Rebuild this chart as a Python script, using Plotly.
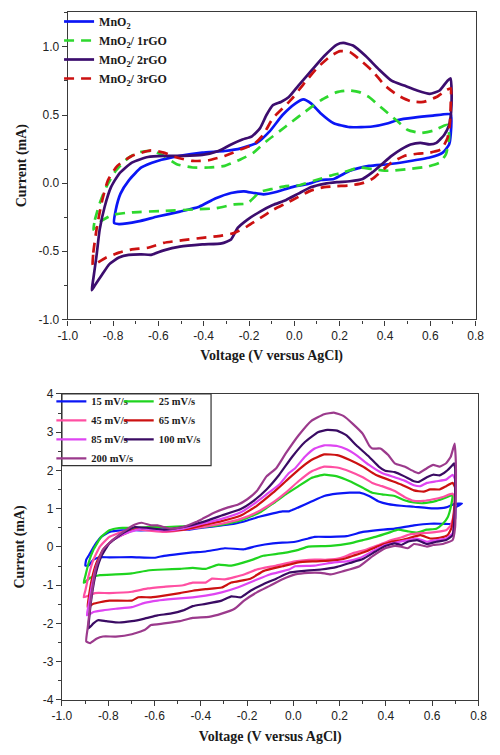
import plotly.graph_objects as go

# ---------------- Top panel: MnO2 / rGO composites (V vs AgCl, mA) ----------------
MNO2_V = [-0.795, -0.788, -0.767, -0.731, -0.675, -0.604, -0.505, -0.406, -0.307, -0.236, -0.165, -0.109,
          -0.052, 0.004, 0.040, 0.075, 0.117, 0.174, 0.245, 0.344, 0.414, 0.457, 0.528, 0.612, 0.690,
          0.690, 0.683, 0.655, 0.598, 0.499, 0.414, 0.330, 0.245, 0.174, 0.117, 0.061, -0.010, -0.081,
          -0.137, -0.180, -0.222, -0.279, -0.349, -0.420, -0.505, -0.604, -0.689, -0.774, -0.795]
MNO2_I = [-0.293, -0.197, -0.077, 0.019, 0.115, 0.163, 0.200, 0.224, 0.236, 0.255, 0.296, 0.380,
          0.500, 0.584, 0.615, 0.584, 0.512, 0.440, 0.411, 0.416, 0.440, 0.464, 0.481, 0.495, 0.505,
          0.356, 0.284, 0.224, 0.188, 0.159, 0.139, 0.127, 0.091, 0.031, 0.024, -0.005, -0.029, -0.065,
          -0.082, -0.072, -0.060, -0.072, -0.113, -0.173, -0.209, -0.245, -0.281, -0.300, -0.293]

RGO1_V = [-0.887, -0.880, -0.859, -0.830, -0.788, -0.731, -0.682, -0.625, -0.576, -0.519, -0.448, -0.378,
          -0.307, -0.236, -0.180, -0.123, -0.066, -0.010, 0.047, 0.117, 0.188, 0.245, 0.287, 0.330, 0.372,
          0.414, 0.457, 0.499, 0.556, 0.612, 0.676,
          0.683, 0.669, 0.641, 0.584, 0.499, 0.414, 0.344, 0.287, 0.216, 0.160, 0.089, 0.018, -0.038,
          -0.095, -0.151, -0.208, -0.264, -0.349, -0.434, -0.576, -0.717, -0.802, -0.844, -0.873, -0.887]
RGO1_I = [-0.341, -0.269, -0.149, -0.029, 0.091, 0.188, 0.228, 0.236, 0.200, 0.139, 0.115, 0.115,
          0.127, 0.175, 0.224, 0.308, 0.380, 0.452, 0.524, 0.608, 0.668, 0.680, 0.668, 0.632, 0.572,
          0.512, 0.452, 0.392, 0.368, 0.385, 0.428,
          0.332, 0.212, 0.151, 0.120, 0.103, 0.091, 0.103, 0.115, 0.079, 0.055, 0.019, -0.017, -0.022,
          -0.041, -0.065, -0.149, -0.156, -0.185, -0.192, -0.204, -0.214, -0.233, -0.269, -0.305, -0.341]

RGO2_V = [-0.894, -0.887, -0.873, -0.859, -0.837, -0.809, -0.774, -0.717, -0.646, -0.576, -0.491, -0.406,
          -0.335, -0.279, -0.229, -0.187, -0.151, -0.123, -0.095, -0.059, -0.024, 0.018, 0.075, 0.132,
          0.188, 0.216, 0.259, 0.315, 0.372, 0.429, 0.485, 0.542, 0.598, 0.641, 0.676, 0.690,
          0.694, 0.692, 0.683, 0.662, 0.627, 0.598, 0.556, 0.513, 0.471, 0.429, 0.386, 0.344, 0.301,
          0.245, 0.188, 0.132, 0.075, 0.018, -0.038, -0.095, -0.151, -0.208, -0.250, -0.279, -0.321,
          -0.406, -0.505, -0.576, -0.632, -0.675, -0.731, -0.774, -0.816, -0.851, -0.880, -0.894]
RGO2_I = [-0.786, -0.702, -0.534, -0.341, -0.173, -0.029, 0.067, 0.151, 0.192, 0.200, 0.200, 0.207,
          0.236, 0.284, 0.320, 0.344, 0.404, 0.500, 0.572, 0.596, 0.632, 0.716, 0.825, 0.933,
          1.017, 1.029, 1.010, 0.933, 0.837, 0.752, 0.716, 0.680, 0.656, 0.680, 0.752, 0.769,
          0.668, 0.524, 0.428, 0.356, 0.296, 0.284, 0.296, 0.284, 0.248, 0.200, 0.139, 0.079, 0.031,
          0.014, 0.007, -0.005, -0.029, -0.077, -0.125, -0.161, -0.209, -0.269, -0.329, -0.413, -0.442,
          -0.450, -0.466, -0.493, -0.526, -0.522, -0.526, -0.546, -0.594, -0.678, -0.750, -0.786]

RGO3_V = [-0.890, -0.887, -0.873, -0.851, -0.823, -0.781, -0.717, -0.632, -0.576, -0.519, -0.448, -0.378,
          -0.307, -0.236, -0.180, -0.137, -0.095, -0.052, -0.010, 0.047, 0.103, 0.160, 0.202, 0.245,
          0.287, 0.344, 0.400, 0.457, 0.513, 0.570, 0.627, 0.669, 0.690,
          0.690, 0.686, 0.676, 0.648, 0.598, 0.542, 0.485, 0.429, 0.386, 0.344, 0.301, 0.245, 0.188,
          0.132, 0.075, 0.018, -0.038, -0.095, -0.151, -0.208, -0.264, -0.321, -0.406, -0.491, -0.576,
          -0.646, -0.717, -0.774, -0.830, -0.866, -0.887, -0.890]
RGO3_I = [-0.594, -0.510, -0.341, -0.149, 0.019, 0.127, 0.200, 0.240, 0.224, 0.188, 0.163, 0.168,
          0.200, 0.248, 0.284, 0.356, 0.476, 0.548, 0.620, 0.740, 0.849, 0.933, 0.969, 0.962,
          0.909, 0.825, 0.716, 0.644, 0.601, 0.596, 0.632, 0.680, 0.697,
          0.572, 0.428, 0.332, 0.248, 0.224, 0.216, 0.200, 0.151, 0.091, 0.031, 0.000, -0.017, -0.022,
          -0.029, -0.053, -0.101, -0.149, -0.197, -0.257, -0.317, -0.365, -0.385, -0.401, -0.418, -0.438,
          -0.474, -0.486, -0.510, -0.546, -0.582, -0.606, -0.594]

TOP_NAMES = ["MnO<sub>2</sub>", "MnO<sub>2</sub>/ 1rGO", "MnO<sub>2</sub>/ 2rGO", "MnO<sub>2</sub>/ 3rGO"]

# ---------------- Bottom panel: scan rates ----------------
RATE_LABELS = ["15 mV/s", "25 mV/s", "45 mV/s", "65 mV/s", "85 mV/s", "100 mV/s", "200 mV/s"]

R15_V = [-0.899, -0.895, -0.878, -0.858, -0.830, -0.795, -0.740, -0.656, -0.559, -0.448, -0.393, -0.310,
         -0.254, -0.199, -0.144, -0.088, -0.047, -0.019, 0.022, 0.078, 0.133, 0.189, 0.244, 0.286, 0.327,
         0.369, 0.410, 0.466, 0.521, 0.604, 0.660, 0.694, 0.729,
         0.702, 0.699, 0.688, 0.646, 0.591, 0.521, 0.438, 0.355, 0.300, 0.230, 0.161, 0.092, 0.064, 0.008,
         -0.088, -0.158, -0.213, -0.296, -0.379, -0.435, -0.490, -0.559, -0.601, -0.698, -0.795, -0.836,
         -0.864, -0.885, -0.899]
R15_I = [-0.488, -0.334, -0.163, 0.050, 0.264, 0.392, 0.435, 0.435, 0.452, 0.452, 0.503, 0.563,
         0.606, 0.691, 0.794, 0.879, 0.931, 0.931, 1.034, 1.187, 1.332, 1.392, 1.418, 1.418, 1.332,
         1.187, 1.119, 1.076, 1.051, 1.008, 1.034, 1.119, 1.136,
         1.034, 0.734, 0.606, 0.606, 0.606, 0.563, 0.478, 0.435, 0.392, 0.281, 0.264, 0.264, 0.221, 0.136,
         0.093, 0.025, -0.061, -0.035, -0.119, -0.145, -0.180, -0.232, -0.283, -0.266, -0.274, -0.266,
         -0.334, -0.488, -0.488]

R25_V = [-0.906, -0.899, -0.885, -0.864, -0.830, -0.795, -0.753, -0.698, -0.629, -0.559, -0.476, -0.393,
         -0.310, -0.227, -0.144, -0.088, -0.033, 0.022, 0.078, 0.133, 0.189, 0.244, 0.300, 0.341, 0.383,
         0.438, 0.480, 0.521, 0.563, 0.618, 0.660, 0.688,
         0.680, 0.667, 0.646, 0.618, 0.577, 0.535, 0.494, 0.452, 0.410, 0.355, 0.300, 0.244, 0.161, 0.064,
         0.022, -0.047, -0.130, -0.185, -0.268, -0.324, -0.379, -0.435, -0.490, -0.559, -0.629, -0.698,
         -0.767, -0.836, -0.878, -0.899, -0.906]
R25_I = [-0.932, -0.762, -0.420, -0.076, 0.264, 0.435, 0.495, 0.495, 0.520, 0.520, 0.538, 0.520,
         0.580, 0.691, 0.905, 1.136, 1.375, 1.589, 1.803, 1.888, 1.845, 1.717, 1.546, 1.418, 1.375,
         1.332, 1.222, 1.161, 1.144, 1.204, 1.290, 1.358,
         1.034, 0.777, 0.606, 0.478, 0.452, 0.375, 0.409, 0.452, 0.367, 0.264, 0.179, 0.093, 0.025, 0.008,
         -0.076, -0.163, -0.232, -0.351, -0.488, -0.462, -0.573, -0.548, -0.573, -0.590, -0.616, -0.693,
         -0.719, -0.736, -0.804, -0.916, -0.932]

R45_V = [-0.906, -0.899, -0.885, -0.864, -0.836, -0.795, -0.740, -0.670, -0.559, -0.490, -0.393, -0.310,
         -0.227, -0.158, -0.088, -0.033, 0.022, 0.078, 0.133, 0.189, 0.244, 0.300, 0.341, 0.383, 0.438,
         0.480, 0.521, 0.563, 0.604, 0.646, 0.688,
         0.699, 0.694, 0.680, 0.660, 0.618, 0.577, 0.507, 0.466, 0.424, 0.369, 0.313, 0.258, 0.203, 0.147,
         0.092, 0.008, -0.074, -0.158, -0.213, -0.296, -0.352, -0.379, -0.435, -0.476, -0.559, -0.629,
         -0.698, -0.795, -0.858, -0.878, -0.906]
R45_I = [-1.317, -1.146, -0.762, -0.334, 0.008, 0.264, 0.392, 0.452, 0.392, 0.435, 0.520, 0.606,
         0.734, 0.905, 1.161, 1.418, 1.717, 1.974, 2.101, 2.076, 1.974, 1.820, 1.674, 1.589, 1.461,
         1.307, 1.204, 1.204, 1.247, 1.307, 1.392,
         1.290, 0.862, 0.563, 0.435, 0.392, 0.367, 0.333, 0.247, 0.179, 0.050, -0.076, -0.163, -0.292, -0.334,
         -0.334, -0.377, -0.488, -0.590, -0.719, -0.847, -0.830, -0.932, -0.932, -1.001, -1.043, -1.086,
         -1.172, -1.206, -1.206, -1.257, -1.317]

R65_V = [-0.889, -0.885, -0.871, -0.851, -0.823, -0.781, -0.726, -0.670, -0.559, -0.476, -0.393, -0.310,
         -0.227, -0.158, -0.088, -0.033, 0.022, 0.078, 0.133, 0.189, 0.244, 0.300, 0.355, 0.410, 0.466,
         0.521, 0.563, 0.591, 0.632, 0.660, 0.688,
         0.699, 0.694, 0.685, 0.667, 0.632, 0.591, 0.549, 0.494, 0.466, 0.424, 0.369, 0.313, 0.258, 0.216,
         0.175, 0.092, 0.022, -0.047, -0.130, -0.185, -0.268, -0.310, -0.379, -0.435, -0.490, -0.559,
         -0.615, -0.670, -0.698, -0.795, -0.836, -0.864, -0.889]
R65_I = [-1.574, -1.360, -0.847, -0.420, -0.076, 0.179, 0.350, 0.478, 0.435, 0.452, 0.563, 0.674,
         0.820, 1.076, 1.418, 1.717, 2.016, 2.273, 2.418, 2.401, 2.273, 2.101, 1.888, 1.760, 1.632,
         1.478, 1.444, 1.503, 1.503, 1.589, 1.674,
         1.546, 0.948, 0.520, 0.307, 0.239, 0.221, 0.307, 0.221, 0.179, 0.136, 0.025, -0.119, -0.232, -0.317,
         -0.351, -0.377, -0.402, -0.505, -0.633, -0.830, -0.932, -1.061, -1.104, -1.146, -1.206, -1.274,
         -1.317, -1.317, -1.403, -1.403, -1.446, -1.488, -1.574]

R85_V = [-0.892, -0.885, -0.871, -0.851, -0.823, -0.781, -0.726, -0.656, -0.559, -0.476, -0.393, -0.310,
         -0.227, -0.172, -0.116, -0.061, -0.019, 0.008, 0.050, 0.092, 0.133, 0.189, 0.230, 0.272, 0.327,
         0.383, 0.438, 0.480, 0.521, 0.549, 0.577, 0.618, 0.660, 0.688,
         0.699, 0.697, 0.688, 0.660, 0.618, 0.577, 0.535, 0.494, 0.438, 0.397, 0.341, 0.286, 0.230, 0.175,
         0.092, 0.008, -0.019, -0.102, -0.172, -0.241, -0.310, -0.379, -0.435, -0.518, -0.587, -0.643,
         -0.698, -0.767, -0.823, -0.864, -0.892]
R85_I = [-1.788, -1.531, -1.018, -0.505, -0.119, 0.179, 0.350, 0.478, 0.435, 0.478, 0.606, 0.734,
         0.905, 1.119, 1.375, 1.632, 1.931, 2.059, 2.358, 2.572, 2.657, 2.640, 2.555, 2.401, 2.144,
         1.931, 1.820, 1.734, 1.614, 1.589, 1.674, 1.717, 1.760, 1.888,
         1.760, 0.862, 0.350, 0.221, 0.179, 0.136, 0.221, 0.179, 0.110, 0.050, -0.119, -0.292, -0.377, -0.402,
         -0.488, -0.505, -0.590, -0.719, -0.890, -1.061, -1.189, -1.274, -1.317, -1.360, -1.403, -1.462,
         -1.574, -1.617, -1.659, -1.702, -1.788]

R100_V = [-0.885, -0.881, -0.871, -0.853, -0.830, -0.795, -0.740, -0.684, -0.559, -0.476, -0.393, -0.310,
          -0.227, -0.172, -0.116, -0.061, -0.005, 0.050, 0.106, 0.147, 0.189, 0.230, 0.272, 0.327, 0.369,
          0.397, 0.438, 0.480, 0.521, 0.542, 0.577, 0.604, 0.632, 0.660, 0.688, 0.694,
          0.699, 0.697, 0.688, 0.660, 0.618, 0.577, 0.535, 0.494, 0.466, 0.438, 0.397, 0.355, 0.300, 0.244,
          0.189, 0.119, 0.036, -0.019, -0.074, -0.130, -0.185, -0.227, -0.268, -0.310, -0.379, -0.435,
          -0.476, -0.532, -0.587, -0.643, -0.698, -0.753, -0.809, -0.844, -0.864, -0.885]
R100_I = [-2.129, -1.788, -1.274, -0.676, -0.249, 0.093, 0.350, 0.520, 0.452, 0.520, 0.649, 0.820,
          0.991, 1.204, 1.503, 1.888, 2.358, 2.743, 2.999, 3.059, 3.042, 2.914, 2.657, 2.358, 2.101,
          1.991, 1.956, 1.845, 1.717, 1.700, 1.820, 1.888, 1.871, 1.974, 2.144, 2.187,
          2.059, 0.862, 0.307, 0.179, 0.136, 0.076, 0.179, 0.136, 0.050, 0.093, 0.025, -0.119, -0.317, -0.420,
          -0.522, -0.590, -0.633, -0.676, -0.830, -0.975, -1.146, -1.317, -1.291, -1.403, -1.488, -1.548,
          -1.659, -1.745, -1.788, -1.873, -1.941, -1.976, -1.941, -1.916, -2.001, -2.129]

R200_V = [-0.895, -0.889, -0.881, -0.871, -0.851, -0.823, -0.781, -0.726, -0.684, -0.656, -0.615, -0.587,
          -0.532, -0.476, -0.421, -0.393, -0.338, -0.282, -0.241, -0.199, -0.158, -0.116, -0.074, -0.033,
          0.022, 0.078, 0.133, 0.175, 0.216, 0.258, 0.300, 0.327, 0.341, 0.376, 0.410, 0.438, 0.480,
          0.521, 0.542, 0.577, 0.604, 0.632, 0.660, 0.680, 0.697,
          0.702, 0.702, 0.699, 0.688, 0.646, 0.604, 0.577, 0.549, 0.521, 0.494, 0.466, 0.438, 0.397, 0.341,
          0.286, 0.216, 0.161, 0.119, 0.064, 0.008, -0.047, -0.102, -0.158, -0.213, -0.254, -0.310, -0.365,
          -0.435, -0.490, -0.559, -0.615, -0.643, -0.698, -0.767, -0.823, -0.851, -0.878, -0.895]
R200_I = [-2.471, -2.129, -1.702, -1.189, -0.505, -0.076, 0.179, 0.435, 0.589, 0.632, 0.563, 0.563,
          0.478, 0.520, 0.649, 0.734, 0.905, 1.034, 1.102, 1.247, 1.461, 1.845, 2.059, 2.444,
          2.914, 3.298, 3.469, 3.512, 3.426, 3.212, 2.957, 2.657, 2.572, 2.572, 2.401, 2.187, 2.101,
          1.974, 1.931, 2.059, 2.144, 2.101, 2.187, 2.358, 2.700,
          2.230, 1.375, 0.520, 0.179, 0.076, 0.050, 0.008, 0.050, 0.076, -0.035, 0.008, 0.025, -0.035, -0.249,
          -0.505, -0.633, -0.719, -0.676, -0.676, -0.719, -0.847, -1.018, -1.189, -1.403, -1.617, -1.745, -1.830,
          -1.856, -1.941, -2.001, -2.044, -2.172, -2.283, -2.343, -2.343, -2.403, -2.514, -2.471]

X_TICKS = [-1.0, -0.8, -0.6, -0.4, -0.2, 0.0, 0.2, 0.4, 0.6, 0.8]
X_TICK_TEXT = ["-1.0", "-0.8", "-0.6", "-0.4", "-0.2", "0.0", "0.2", "0.4", "0.6", "0.8"]
TOP_Y_TICKS = [-1.0, -0.5, 0.0, 0.5, 1.0]
TOP_Y_TICK_TEXT = ["-1.0", "-0.5", "0.0", "0.5", "1.0"]
BOT_Y_TICKS = [-4, -3, -2, -1, 0, 1, 2, 3, 4]
BOT_Y_TICK_TEXT = ["-4", "-3", "-2", "-1", "0", "1", "2", "3", "4"]

# ---------------- Styles ----------------
TOP_STYLE = [("#0b16f5", "solid"), ("#2ed82e", "10px,7px"), ("#3c0d6e", "solid"), ("#cc1111", "10px,7px")]
RATE_COLORS = ["#0b16f5", "#1fd41f", "#ff4fa2", "#cc1111", "#de45f2", "#3a0b63", "#9b3a8c"]
RATE_LEGEND = ["legend2", "legend3", "legend2", "legend3", "legend2", "legend3", "legend2"]

SERIF = "Liberation Serif, Times New Roman, serif"
SANS = "Liberation Sans, Arial, sans-serif"
AX = "#3a3a3a"

fig = go.Figure()

top_data = [(MNO2_V, MNO2_I), (RGO1_V, RGO1_I), (RGO2_V, RGO2_I), (RGO3_V, RGO3_I)]
for name, (v, i), (col, dash) in zip(TOP_NAMES, top_data, TOP_STYLE):
    fig.add_trace(go.Scatter(
        x=v, y=i, mode="lines", name="<b>" + name + "</b>",
        line=dict(color=col, width=2.7, dash=dash, shape="spline", smoothing=0.5),
        xaxis="x", yaxis="y", legend="legend"))

bot_data = [(R15_V, R15_I), (R25_V, R25_I), (R45_V, R45_I), (R65_V, R65_I),
            (R85_V, R85_I), (R100_V, R100_I), (R200_V, R200_I)]
for lab, (v, i), col, lg in zip(RATE_LABELS, bot_data, RATE_COLORS, RATE_LEGEND):
    fig.add_trace(go.Scatter(
        x=v, y=i, mode="lines", name="<b>" + lab + "</b>",
        line=dict(color=col, width=2.2, shape="spline", smoothing=0.4),
        xaxis="x2", yaxis="y2", legend=lg))

axis_base = dict(showline=True, linecolor=AX, linewidth=1.3, mirror=True, ticks="outside",
                 ticklen=5, tickwidth=1, tickcolor=AX, showgrid=False, zeroline=False,
                 tickfont=dict(family=SANS, size=12, color="#222"))
title_font = dict(family=SERIF, size=14, color="#1a1a1a")

fig.update_layout(
    width=500, height=755, margin=dict(l=0, r=0, t=0, b=0),
    paper_bgcolor="white", plot_bgcolor="white",
    xaxis=dict(axis_base, domain=[0.12, 0.968], range=[-1.0, 0.8], anchor="y",
               tickvals=X_TICKS, ticktext=X_TICK_TEXT,
               minor=dict(ticks="outside", ticklen=3, tickcolor=AX, dtick=0.1),
               title=dict(text="<b>Voltage (V versus AgCl)</b>", font=title_font, standoff=8)),
    yaxis=dict(axis_base, domain=[0.5784, 0.9934], range=[-1.0, 1.257], anchor="x",
               tickvals=TOP_Y_TICKS, ticktext=TOP_Y_TICK_TEXT,
               minor=dict(ticks="outside", ticklen=3, tickcolor=AX, dtick=0.25),
               title=dict(text="<b>Current (mA)</b>", font=title_font, standoff=8)),
    xaxis2=dict(axis_base, domain=[0.108, 0.974], range=[-1.0, 0.8], anchor="y2",
                tickvals=X_TICKS, ticktext=X_TICK_TEXT,
                minor=dict(ticks="outside", ticklen=3, tickcolor=AX, dtick=0.1),
                title=dict(text="<b>Voltage (V versus AgCl)</b>", font=title_font, standoff=8)),
    yaxis2=dict(axis_base, domain=[0.0649, 0.4778], range=[-4, 4], anchor="x2",
                tickvals=BOT_Y_TICKS, ticktext=BOT_Y_TICK_TEXT,
                minor=dict(ticks="outside", ticklen=3, tickcolor=AX, dtick=0.5),
                title=dict(text="<b>Current (mA)</b>", font=title_font, standoff=14)),
    legend=dict(x=0.102, y=1.0, xanchor="left", yanchor="top", bgcolor="rgba(0,0,0,0)",
                font=dict(family=SERIF, size=12, color="#1a1a1a"), tracegroupgap=0),
    legend2=dict(x=0.086, y=0.4874, xanchor="left", yanchor="top", bgcolor="rgba(0,0,0,0)",
                 font=dict(family=SERIF, size=10.5, color="#1a1a1a"), tracegroupgap=0),
    legend3=dict(x=0.226, y=0.4874, xanchor="left", yanchor="top", bgcolor="rgba(0,0,0,0)",
                 font=dict(family=SERIF, size=10.5, color="#1a1a1a"), tracegroupgap=0),
    shapes=[dict(type="rect", xref="paper", yref="paper", x0=0.108, x1=0.418, y0=0.381, y1=0.4778,
                 line=dict(color="#333", width=1.2), fillcolor="rgba(0,0,0,0)", layer="above")],
    showlegend=True,
)

fig.write_html("out.html")
